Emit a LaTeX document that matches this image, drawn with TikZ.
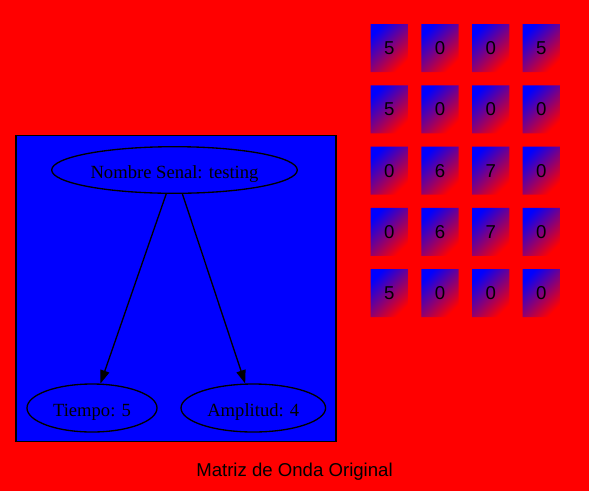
\documentclass[tikz,border=0pt]{standalone}
\usepackage{fontspec}
\setmainfont{Liberation Serif}
\setsansfont{Liberation Sans}
\usetikzlibrary{shapes.geometric,shapes.misc,arrows.meta}
\begin{document}
\begin{tikzpicture}[x=1pt,y=-1pt,
  ell/.style={ellipse,draw=black,line width=1.33pt,inner sep=0pt,
    text height=16.4pt,text depth=0pt,
    font=\fontsize{18.6}{22}\selectfont},
  cell/.style={chamfered rectangle,chamfered rectangle corners=south east,
    chamfered rectangle xsep=10pt,chamfered rectangle ysep=13pt,
    minimum width=37.3pt,minimum height=48pt,inner sep=0pt,
    shading=axis,top color=blue,bottom color=red,shading angle=45,
    font=\sffamily\fontsize{18.6}{22}\selectfont},
  edge/.style={line width=1.33pt,-{Triangle[length=13.3pt,width=9.3pt]}}]
\fill[red] (0,0) rectangle (589,491);
\useasboundingbox (0,0) rectangle (589,491);
\node[draw=black,fill=blue,line width=1.33pt,minimum width=320pt,minimum height=306pt,inner sep=0pt] (clus) at (176,288.5) {};
\node[ell,minimum width=245.6pt,minimum height=46.6pt] (top) at (174.5,170) {Nombre Senal: testing};
\node[ell,minimum width=130pt,minimum height=48pt] (tiempo) at (92,408) {Tiempo: 5};
\node[ell,minimum width=144.6pt,minimum height=48pt] (amp) at (253.3,408) {Amplitud: 4};
\draw[edge] (top) -- (tiempo);
\draw[edge] (top) -- (amp);
\foreach \r/\a/\b/\c/\d in {1/5/0/0/5,2/5/0/0/0,3/0/6/7/0,4/0/6/7/0,5/5/0/0/0}{
  \pgfmathsetmacro{\yy}{48+(\r-1)*61.3}
  \node[cell] (c\r a) at (389.3,\yy) {\a};
  \node[cell] (c\r b) at (440,\yy) {\b};
  \node[cell] (c\r c) at (490.7,\yy) {\c};
  \node[cell] (c\r d) at (541.3,\yy) {\d};
}
\node[font=\sffamily\fontsize{18.6}{22}\selectfont,anchor=base] (lbl) at (294.5,476) {Matriz de Onda Original};
\end{tikzpicture}
\end{document}
